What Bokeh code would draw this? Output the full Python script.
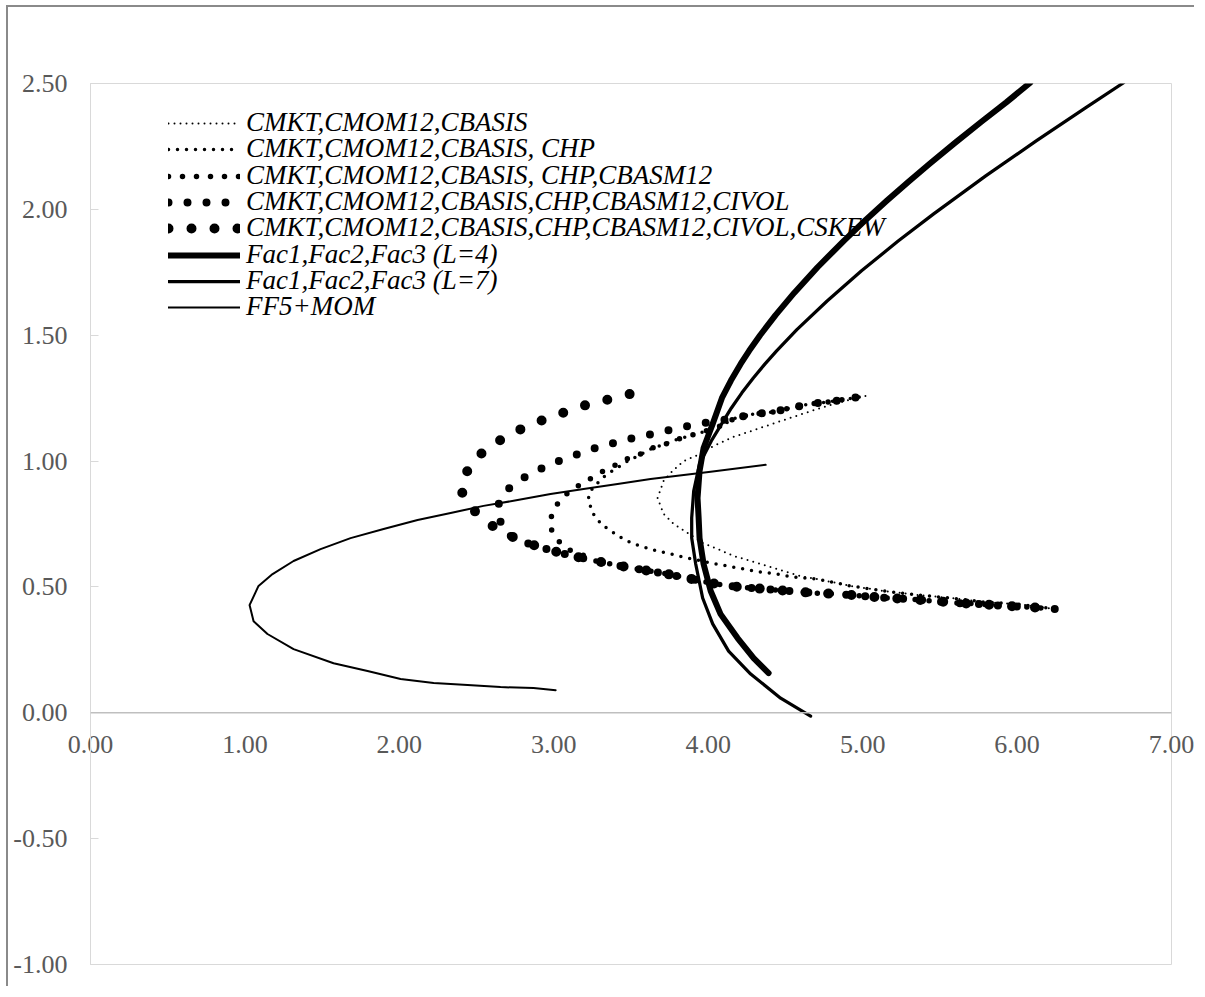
from bokeh.plotting import figure
from bokeh.models import Legend, LegendItem, FixedTicker, NumeralTickFormatter, Span
from bokeh.embed import file_html
from bokeh.resources import INLINE

# ---------------- data ----------------
x_ticks = [0, 1, 2, 3, 4, 5, 6, 7]
y_ticks = [-1.0, -0.5, 0.0, 0.5, 1.0, 1.5, 2.0, 2.5]

series_labels = [
    "CMKT,CMOM12,CBASIS",
    "CMKT,CMOM12,CBASIS, CHP",
    "CMKT,CMOM12,CBASIS, CHP,CBASM12",
    "CMKT,CMOM12,CBASIS,CHP,CBASM12,CIVOL",
    "CMKT,CMOM12,CBASIS,CHP,CBASM12,CIVOL,CSKEW",
    "Fac1,Fac2,Fac3 (L=4)",
    "Fac1,Fac2,Fac3 (L=7)",
    "FF5+MOM",
]

s1_x = [6.244, 6.004, 5.784, 5.570, 5.356, 5.136, 4.922, 4.708, 4.598, 4.488,
        4.385, 4.275, 4.164, 4.061, 3.964, 3.867, 3.776, 3.711, 3.672, 3.711,
        3.769, 3.841, 3.931, 4.035, 4.164, 4.339, 4.534, 4.708, 4.838, 5.019]
s1_y = [0.412, 0.432, 0.440, 0.456, 0.468, 0.484, 0.504, 0.531, 0.543, 0.563,
        0.583, 0.603, 0.623, 0.651, 0.675, 0.714, 0.750, 0.790, 0.853, 0.921,
        0.961, 1.000, 1.024, 1.060, 1.096, 1.132, 1.172, 1.207, 1.231, 1.259]

s2_x = [6.244, 6.004, 5.784, 5.570, 5.356, 5.136, 4.922, 4.708, 4.553, 4.449,
        4.339, 4.229, 4.126, 4.016, 3.867, 3.756, 3.646, 3.517, 3.452, 3.400,
        3.323, 3.284, 3.251, 3.232, 3.225, 3.251, 3.284, 3.323, 3.368, 3.420,
        3.478, 3.556, 3.640, 3.724, 3.808, 3.899, 3.970, 4.080, 4.177, 4.294,
        4.417, 4.534, 4.657, 4.780, 4.903, 5.019]
s2_y = [0.412, 0.432, 0.440, 0.456, 0.468, 0.484, 0.504, 0.531, 0.539, 0.551,
        0.559, 0.571, 0.583, 0.595, 0.615, 0.631, 0.647, 0.671, 0.690, 0.710,
        0.742, 0.766, 0.794, 0.830, 0.858, 0.893, 0.913, 0.937, 0.957, 0.977,
        1.000, 1.024, 1.052, 1.068, 1.088, 1.104, 1.116, 1.140, 1.171, 1.187,
        1.195, 1.211, 1.227, 1.235, 1.247, 1.259]

s3_x = [6.244, 6.088, 5.926, 5.764, 5.615, 5.460, 5.298, 5.149, 5.000, 4.838,
        4.676, 4.521, 4.359, 4.197, 4.048, 3.899, 3.737, 3.582, 3.433, 3.271,
        3.174, 3.089, 3.018, 2.979, 2.986, 3.031, 3.096, 3.167, 3.245, 3.323,
        3.400, 3.484, 3.562, 3.640, 3.724, 3.808, 3.899, 3.970, 4.080, 4.177,
        4.294, 4.417, 4.534, 4.657, 4.780, 4.903, 5.019]
s3_y = [0.412, 0.420, 0.424, 0.432, 0.436, 0.444, 0.452, 0.456, 0.464, 0.472,
        0.476, 0.484, 0.492, 0.500, 0.512, 0.531, 0.551, 0.567, 0.583, 0.603,
        0.631, 0.650, 0.690, 0.734, 0.790, 0.837, 0.877, 0.905, 0.933, 0.961,
        0.984, 1.012, 1.028, 1.052, 1.068, 1.088, 1.104, 1.116, 1.140, 1.171,
        1.187, 1.195, 1.211, 1.227, 1.235, 1.247, 1.259]

s4_x = [6.244, 6.088, 5.926, 5.764, 5.615, 5.460, 5.298, 5.149, 5.000, 4.838,
        4.676, 4.521, 4.359, 4.197, 4.048, 3.899, 3.737, 3.582, 3.433, 3.271,
        3.122, 2.973, 2.824, 2.753, 2.681, 2.662, 2.630, 2.681, 2.778, 2.889,
        2.992, 3.109, 3.225, 3.342, 3.459, 3.582, 3.698, 3.815, 3.938, 4.061,
        4.177, 4.294, 4.417, 4.534, 4.657, 4.780, 4.903, 5.019]
s4_y = [0.412, 0.420, 0.424, 0.432, 0.436, 0.444, 0.452, 0.456, 0.464, 0.472,
        0.476, 0.484, 0.492, 0.500, 0.512, 0.531, 0.551, 0.567, 0.583, 0.603,
        0.623, 0.647, 0.675, 0.694, 0.714, 0.745, 0.813, 0.877, 0.925, 0.961,
        0.992, 1.016, 1.044, 1.064, 1.084, 1.100, 1.116, 1.132, 1.147, 1.160,
        1.171, 1.187, 1.195, 1.211, 1.227, 1.235, 1.247, 1.259]

# listed from its upper end (3.49, 1.27) down to the lower right end
s5_x = [3.491, 3.342, 3.187, 3.038, 2.895, 2.746, 2.610, 2.487, 2.409, 2.403,
        2.435, 2.545, 2.675, 2.753, 2.830, 2.973, 3.122, 3.271, 3.433, 3.582,
        3.737, 3.899, 4.048, 4.197, 4.359, 4.521, 4.676, 4.838, 5.000, 5.149,
        5.298, 5.460, 5.615, 5.764, 5.926, 6.088, 6.244]
s5_y = [1.266, 1.243, 1.219, 1.187, 1.155, 1.116, 1.068, 1.008, 0.929, 0.881,
        0.834, 0.766, 0.714, 0.694, 0.674, 0.647, 0.623, 0.603, 0.583, 0.567,
        0.551, 0.531, 0.512, 0.500, 0.492, 0.484, 0.476, 0.472, 0.464, 0.456,
        0.452, 0.444, 0.436, 0.432, 0.424, 0.420, 0.412]

l4_x = [4.391, 4.294, 4.190, 4.080, 4.016, 3.970, 3.944, 3.938, 3.931, 3.944,
        3.970, 4.029, 4.089, 4.147, 4.210, 4.265, 4.336, 4.436, 4.558, 4.708,
        4.878, 5.023, 5.156, 5.297, 5.434, 5.600, 5.769, 5.930, 6.085]
l4_y = [0.158, 0.217, 0.297, 0.392, 0.484, 0.591, 0.694, 0.774, 0.853, 0.961,
        1.052, 1.148, 1.251, 1.320, 1.386, 1.438, 1.500, 1.580, 1.669, 1.770,
        1.875, 1.960, 2.034, 2.110, 2.181, 2.265, 2.348, 2.425, 2.503]

l7_x = [4.663, 4.469, 4.275, 4.132, 4.029, 3.964, 3.919, 3.893, 3.893, 3.906,
        3.944, 4.020, 4.150, 4.218, 4.292, 4.368, 4.443, 4.574, 4.770, 4.991,
        5.230, 5.460, 5.797, 6.124, 6.443, 6.690]
l7_y = [-0.013, 0.058, 0.154, 0.245, 0.353, 0.456, 0.591, 0.694, 0.774, 0.881,
        0.989, 1.080, 1.211, 1.271, 1.330, 1.386, 1.438, 1.522, 1.636, 1.755,
        1.874, 1.982, 2.133, 2.272, 2.403, 2.503]

ff5_x = [3.012, 2.869, 2.655, 2.442, 2.222, 2.008, 1.794, 1.574, 1.315, 1.146,
         1.056, 1.030, 1.088, 1.179, 1.315, 1.490, 1.684, 1.898, 2.118, 2.332,
         2.545, 2.766, 2.979, 3.193, 3.413, 3.627, 4.003, 4.372]
ff5_y = [0.090, 0.098, 0.102, 0.110, 0.118, 0.134, 0.166, 0.197, 0.253, 0.313,
         0.364, 0.428, 0.504, 0.551, 0.603, 0.650, 0.694, 0.730, 0.766, 0.794,
         0.822, 0.845, 0.869, 0.889, 0.909, 0.929, 0.957, 0.985]

# ---------------- styles / layout ----------------
series_xy = [(s1_x, s1_y), (s2_x, s2_y), (s3_x, s3_y), (s4_x, s4_y), (s5_x, s5_y),
             (l4_x, l4_y), (l7_x, l7_y), (ff5_x, ff5_y)]
line_widths = [2, 3.5, 5.5, 8, 10, 6, 3.25, 2]
line_dashes = ["0 6", "0 9", "0 14", "0 19", "0 23", "solid", "solid", "solid"]
legend_row_offsets = [826, 800, 773, 747, 721, 694, 668, 642]   # screen px above frame bottom

FONT = "Liberation Serif"

p = figure(width=1188, height=981, x_range=(0, 7), y_range=(-1, 2.5),
           output_backend="svg", toolbar_location=None, x_axis_location="below",
           min_border_left=82, min_border_top=76, min_border_right=25, min_border_bottom=24)
p.styles = {"margin-left": "6px", "margin-top": "5px",
            "border-left": "2px solid #8a8a8a", "border-top": "2px solid #8a8a8a"}

p.xgrid.visible = False
p.ygrid.visible = False
p.outline_line_color = "#d9d9d9"
p.outline_line_width = 1
p.background_fill_color = "white"
p.border_fill_color = "white"

# horizontal axis line at y = 0
p.add_layout(Span(location=0, dimension="width", line_color="#bfbfbf", line_width=1.5))

# x tick labels: bottom axis whose labels are lifted up to sit just under y = 0
xa = p.xaxis[0]
xa.ticker = FixedTicker(ticks=x_ticks)
xa.formatter = NumeralTickFormatter(format="0.00")
xa.axis_line_color = None
xa.major_tick_line_color = None
xa.minor_tick_line_color = None
xa.major_tick_out = 0
xa.major_tick_in = 0
xa.major_label_standoff = -229
xa.major_label_text_font = FONT
xa.major_label_text_font_size = "26px"
xa.major_label_text_color = "#595959"

ya = p.yaxis[0]
ya.ticker = FixedTicker(ticks=y_ticks)
ya.formatter = NumeralTickFormatter(format="0.00")
ya.axis_line_color = "#d9d9d9"
ya.major_tick_line_color = "#d9d9d9"
ya.major_tick_in = 8
ya.major_tick_out = 0
ya.minor_tick_line_color = None
ya.major_label_standoff = 23
ya.major_label_text_font = FONT
ya.major_label_text_font_size = "26px"
ya.major_label_text_color = "#595959"

for (xs, ys), lw, dash, lab, off in zip(series_xy, line_widths, line_dashes,
                                        series_labels, legend_row_offsets):
    r = p.line(xs, ys, line_color="black", line_width=lw, line_dash=dash,
               line_cap="round", line_join="round")
    lg = Legend(items=[LegendItem(label=lab, renderers=[r])], location=(78, off),
                orientation="vertical", glyph_width=72, glyph_height=20, label_height=20,
                label_standoff=6, spacing=0, padding=0, margin=0,
                border_line_color=None, background_fill_alpha=0,
                label_text_font=FONT, label_text_font_style="italic",
                label_text_font_size="27px", label_text_color="black")
    p.add_layout(lg)

open("out.html", "w").write(file_html(p, INLINE))
